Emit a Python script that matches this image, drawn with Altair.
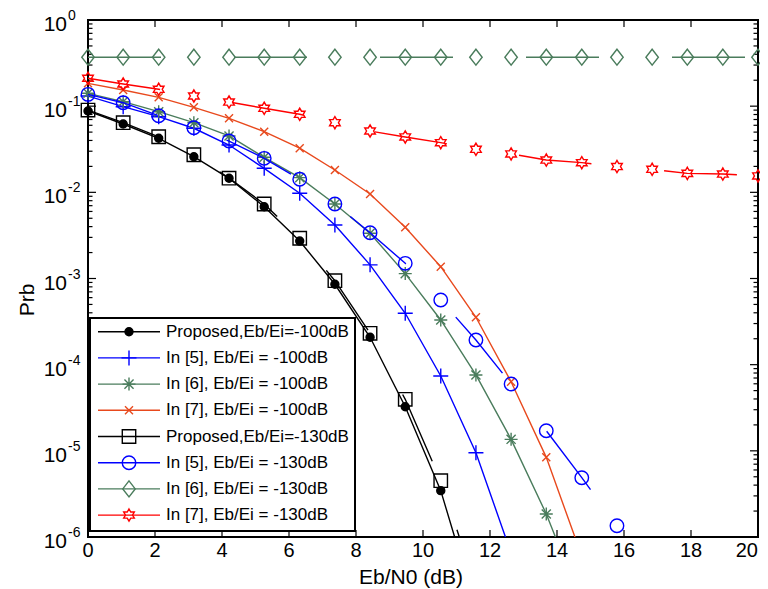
import altair as alt
import pandas as pd

# ---------------- data ----------------
x_db = [0, 1.05, 2.11, 3.16, 4.21, 5.26, 6.32, 7.37, 8.42, 9.47,
        10.53, 11.58, 12.63, 13.68, 14.74, 15.79, 16.84, 17.89, 18.95, 20]

prop_100 = [0.088, 0.0621, 0.0424, 0.0259, 0.01455, 0.00681, 0.00272, 8.57e-4,
            2.08e-4, 3.25e-5, 3.45e-6, 1.5e-7]
in5_100 = [0.131, 0.0986, 0.0755, 0.0554, 0.0354, 0.019, 0.00975, 0.00418,
           0.00144, 3.95e-4, 7.39e-5, 9.5e-6, 6.5e-7]
in6_100 = [0.141, 0.1127, 0.0863, 0.0643, 0.0451, 0.0255, 0.0148, 0.00732,
           0.00335, 0.00114, 3.3e-4, 7.6e-5, 1.36e-5, 1.85e-6, 1.7e-7]
in7_100 = [0.184, 0.154, 0.1267, 0.097, 0.0723, 0.0506, 0.0325, 0.01816,
           0.00957, 0.00393, 0.00137, 3.55e-4, 6.34e-5, 8.4e-6, 6.0e-7]
prop_130 = [0.09, 0.0643, 0.0442, 0.0273, 0.0146, 0.00732, 0.00293, 9.43e-4,
            2.31e-4, 3.96e-5, 4.5e-6, 2.6e-7]
in5_130 = [0.137, 0.1097, 0.0775, 0.0562, 0.0394, 0.0248, 0.01417, 0.00732,
           0.0034, 0.0015, 5.63e-4, 1.93e-4, 5.97e-5, 1.71e-5, 4.88e-6,
           1.35e-6, 3.5e-7]
in6_130 = [0.37, 0.37, 0.37, 0.37, 0.37, 0.37, 0.37, 0.37, 0.37, 0.37,
           0.37, 0.37, 0.37, 0.37, 0.37, 0.37, 0.37, 0.37, 0.37, 0.37]
in7_130 = [0.2106, 0.1808, 0.157, 0.1312, 0.1117, 0.0945, 0.0805, 0.0643,
           0.0515, 0.0439, 0.0377, 0.0316, 0.0279, 0.0237, 0.0221, 0.0199,
           0.0185, 0.0166, 0.0163, 0.0155]

labels = ["Proposed,Eb/Ei=-100dB", "In [5], Eb/Ei = -100dB", "In [6], Eb/Ei = -100dB",
          "In [7], Eb/Ei = -100dB", "Proposed,Eb/Ei=-130dB", "In [5], Eb/Ei = -130dB",
          "In [6], Eb/Ei = -130dB", "In [7], Eb/Ei = -130dB"]
keys = ["p100", "i5_100", "i6_100", "i7_100", "p130", "i5_130", "i6_130", "i7_130"]
values = [prop_100, in5_100, in6_100, in7_100, prop_130, in5_130, in6_130, in7_130]

x_ticks = [0, 2, 4, 6, 8, 10, 12, 14, 16, 18, 20]
y_exponents = [0, -1, -2, -3, -4, -5, -6]
minor_mult = [2, 3, 4, 5, 6, 7, 8, 9]
x_title = "Eb/N0 (dB)"
y_title = "Prb"

# ---------------- styles ----------------
BLUE = "#0000ff"
GREEN = "#4a7c5c"
ORANGE = "#e8491d"
RED = "#ff0000"
FONT = "Liberation Sans"
LW = 1.4

PLUS = "M-1,0L1,0M0,-1L0,1"
ASTER = "M-1,0L1,0M0,-1L0,1M-0.7,-0.7L0.7,0.7M-0.7,0.7L0.7,-0.7"
XMARK = "M-1,-1L1,1M-1,1L1,-1"
DIAM = "M0,-1L0.78,0L0,1L-0.78,0Z"
STAR = ("M0,-1L0.289,-0.5L0.866,-0.5L0.577,0L0.866,0.5L0.289,0.5L0,1"
        "L-0.289,0.5L-0.866,0.5L-0.577,0L-0.866,-0.5L-0.289,-0.5Z")

styles = {
    "p100": dict(color="black", shape="circle", size=64, filled=True, dash=False),
    "i5_100": dict(color=BLUE, shape=PLUS, size=225, filled=False, dash=False),
    "i6_100": dict(color=GREEN, shape=ASTER, size=169, filled=False, dash=False),
    "i7_100": dict(color=ORANGE, shape=XMARK, size=64, filled=False, dash=False),
    "p130": dict(color="black", shape="square", size=180, filled=False, dash=True),
    "i5_130": dict(color=BLUE, shape="circle", size=182, filled=False, dash=True),
    "i6_130": dict(color=GREEN, shape=DIAM, size=256, filled=False, dash=True),
    "i7_130": dict(color=RED, shape=STAR, size=150, filled=False, dash=True),
}

W, H = 670, 517

# ---------------- tables ----------------
rows = []
for k, vals in zip(keys, values):
    for xv, pv in zip(x_db, vals):
        rows.append({"key": k, "x": xv, "p": pv})
df = pd.DataFrame(rows)

leg = pd.DataFrame({"key": keys, "label": labels,
                    "ly": [311.7 + i * 26.2 for i in range(len(keys))]})

yt_major = pd.DataFrame({"t": [10.0 ** e for e in y_exponents],
                         "exp": [str(e) for e in y_exponents]})
yt_minor = pd.DataFrame({"t": [m * 10.0 ** e for e in y_exponents[1:] for m in minor_mult]})
xt = pd.DataFrame({"t": x_ticks, "lab": [str(v) for v in x_ticks]})
one = pd.DataFrame({"a": [0]})

xs = alt.Scale(domain=[0, 20], nice=False, zero=False)
ys = alt.Scale(type="log", domain=[1e-6, 1], nice=False)

layers = []
tick_w = 1.2

# ticks (inward, on all four sides)
layers.append(alt.Chart(xt).mark_rule(color="black", strokeWidth=tick_w).encode(
    x=alt.X("t:Q", scale=xs, axis=None), y=alt.value(H), y2=alt.value(H - 7)))
layers.append(alt.Chart(xt).mark_rule(color="black", strokeWidth=tick_w).encode(
    x=alt.X("t:Q", scale=xs, axis=None), y=alt.value(0), y2=alt.value(7)))
layers.append(alt.Chart(yt_major).mark_rule(color="black", strokeWidth=tick_w).encode(
    y=alt.Y("t:Q", scale=ys, axis=None), x=alt.value(0), x2=alt.value(8)))
layers.append(alt.Chart(yt_major).mark_rule(color="black", strokeWidth=tick_w).encode(
    y=alt.Y("t:Q", scale=ys, axis=None), x=alt.value(W), x2=alt.value(W - 8)))
layers.append(alt.Chart(yt_minor).mark_rule(color="black", strokeWidth=tick_w).encode(
    y=alt.Y("t:Q", scale=ys, axis=None), x=alt.value(0), x2=alt.value(4.5)))
layers.append(alt.Chart(yt_minor).mark_rule(color="black", strokeWidth=tick_w).encode(
    y=alt.Y("t:Q", scale=ys, axis=None), x=alt.value(W), x2=alt.value(W - 4.5)))

# x tick labels (last one kept inside the page edge)
layers.append(alt.Chart(xt).transform_filter(alt.datum.t < 20).mark_text(
    align="center", baseline="middle", font=FONT, fontSize=20, color="black").encode(
    x=alt.X("t:Q", scale=xs, axis=None), y=alt.value(H + 14), text="lab:N"))
layers.append(alt.Chart(xt).transform_filter(alt.datum.t >= 20).mark_text(
    align="right", baseline="middle", font=FONT, fontSize=20, color="black").encode(
    x=alt.X("t:Q", scale=xs, axis=None), y=alt.value(H + 14), text="lab:N",
    ))
# y tick labels 10^e
layers.append(alt.Chart(yt_major).mark_text(
    text="10", align="right", baseline="middle", dy=5, font=FONT, fontSize=21,
    color="black").encode(x=alt.value(-21), y=alt.Y("t:Q", scale=ys, axis=None)))
layers.append(alt.Chart(yt_major).mark_text(
    align="left", baseline="middle", dy=-4, font=FONT, fontSize=14,
    color="black").encode(x=alt.value(-20), y=alt.Y("t:Q", scale=ys, axis=None),
                          text="exp:N"))
# axis titles
layers.append(alt.Chart(one).mark_text(
    text=x_title, align="center", baseline="middle", font=FONT, fontSize=21,
    color="black").encode(x=alt.value(323), y=alt.value(H + 41)))
layers.append(alt.Chart(one).mark_text(
    text=y_title, align="center", baseline="middle", angle=270, font=FONT,
    fontSize=21, color="black").encode(x=alt.value(-60), y=alt.value(280)))

# data series
for k in keys:
    s = styles[k]
    line_kw = dict(color=s["color"], strokeWidth=LW, clip=True)
    if s["dash"]:
        line_kw["strokeDash"] = [73, 73]
    base = alt.Chart(df).transform_filter(alt.datum.key == k)
    layers.append(base.mark_line(**line_kw).encode(
        x=alt.X("x:Q", scale=xs, axis=None), y=alt.Y("p:Q", scale=ys, axis=None),
        order="x:Q"))
    pt_kw = dict(shape=s["shape"], size=s["size"], filled=s["filled"],
                 opacity=1, strokeWidth=LW, stroke=s["color"])
    if s["filled"]:
        pt_kw["fill"] = s["color"]
    layers.append(base.transform_filter(alt.datum.p >= 1e-6).mark_point(**pt_kw).encode(
        x=alt.X("x:Q", scale=xs, axis=None), y=alt.Y("p:Q", scale=ys, axis=None)))

# legend
layers.append(alt.Chart(one).mark_rect(fill="white", stroke="black", strokeWidth=2).encode(
    x=alt.value(2), x2=alt.value(267), y=alt.value(298), y2=alt.value(511)))
for k in keys:
    s = styles[k]
    lb = alt.Chart(leg).transform_filter(alt.datum.key == k)
    layers.append(lb.mark_rule(color=s["color"], strokeWidth=LW).encode(
        x=alt.value(10), x2=alt.value(72), y=alt.Y("ly:Q", scale=None)))
    pt_kw = dict(shape=s["shape"], size=s["size"], filled=s["filled"],
                 opacity=1, strokeWidth=LW, stroke=s["color"])
    if s["filled"]:
        pt_kw["fill"] = s["color"]
    layers.append(lb.mark_point(**pt_kw).encode(
        x=alt.value(41), y=alt.Y("ly:Q", scale=None)))
layers.append(alt.Chart(leg).mark_text(
    align="left", baseline="middle", font=FONT, fontSize=17, color="black").encode(
    x=alt.value(78), y=alt.Y("ly:Q", scale=None), text="label:N"))

chart = alt.layer(*layers).properties(
    width=W, height=H,
    autosize=alt.AutoSizeParams(type="none"),
    padding={"left": 80, "top": 12, "right": 2, "bottom": 52},
    background="white",
).configure_view(stroke="black", strokeWidth=2)

chart.save("out.html", embed_options={"renderer": "svg", "actions": False})
